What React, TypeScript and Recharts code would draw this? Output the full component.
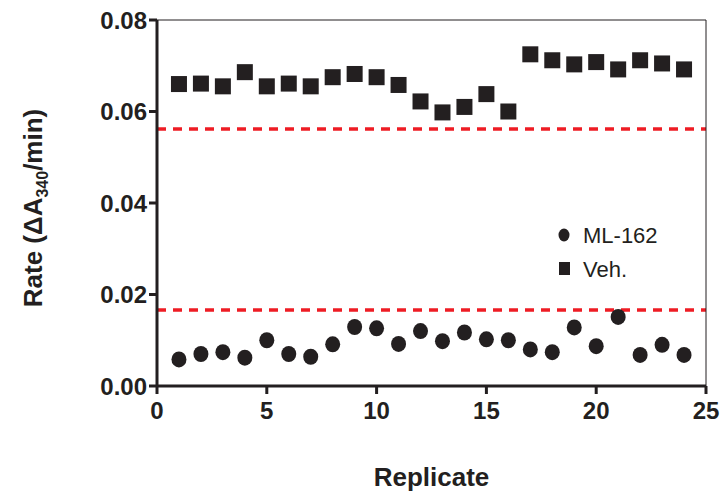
import { ScatterChart, Scatter, XAxis, YAxis, ReferenceLine } from "recharts";

const replicates = [1, 2, 3, 4, 5, 6, 7, 8, 9, 10, 11, 12, 13, 14, 15, 16, 17, 18, 19, 20, 21, 22, 23, 24];
const vehRates = [
  0.066, 0.0661, 0.0655, 0.0686, 0.0655, 0.0661, 0.0655, 0.0675, 0.0682, 0.0675, 0.0658, 0.0622,
  0.0598, 0.061, 0.0638, 0.06, 0.0725, 0.0712, 0.0703, 0.0708, 0.0692, 0.0712, 0.0705, 0.0692,
];
const mlRates = [
  0.0058, 0.007, 0.0074, 0.0062, 0.01, 0.007, 0.0064, 0.0091, 0.0129, 0.0126, 0.0092, 0.012,
  0.0098, 0.0117, 0.0102, 0.01, 0.008, 0.0074, 0.0128, 0.0087, 0.0151, 0.0068, 0.009, 0.0068,
];
const thresholds = [0.0562, 0.0166];
const xTicks = [0, 5, 10, 15, 20, 25];
const yTicks = [0, 0.02, 0.04, 0.06, 0.08];

const vehData = replicates.map((x, i) => ({ x, y: vehRates[i] }));
const mlData = replicates.map((x, i) => ({ x, y: mlRates[i] }));

const font = "'Liberation Sans', Arial, sans-serif";

function Square(props: any) {
  const { cx, cy } = props;
  return <rect x={cx - 8} y={cy - 8} width={16} height={16} fill="#231f20" />;
}

function Dot(props: any) {
  const { cx, cy } = props;
  return <ellipse cx={cx} cy={cy} rx={7.5} ry={8} fill="#231f20" />;
}

export default function App() {
  return (
    <div style={{ position: "absolute", left: 0, top: 0, width: 723, height: 492, fontFamily: font, background: "#fff" }}>
      <ScatterChart width={723} height={492} margin={{ top: 20, right: 17, bottom: 0, left: 0 }}>
        <XAxis
          type="number"
          dataKey="x"
          domain={[0, 25]}
          ticks={xTicks}
          height={106}
          stroke="#231f20"
          strokeWidth={3}
          tickSize={8}
          tick={{ fill: "#231f20", fontSize: 24, fontWeight: "bold", fontFamily: font, dy: 6 }}
          label={{ value: "Replicate", position: "insideBottom", offset: 6, fill: "#231f20", fontSize: 26, fontWeight: "bold", fontFamily: font }}
        />
        <YAxis
          type="number"
          dataKey="y"
          domain={[0, 0.08]}
          ticks={yTicks}
          tickFormatter={(v: number) => v.toFixed(2)}
          width={157}
          stroke="#231f20"
          strokeWidth={3}
          tickSize={8}
          tick={{ fill: "#231f20", fontSize: 24, fontWeight: "bold", fontFamily: font }}
        />
        {thresholds.map((t) => (
          <ReferenceLine key={t} y={t} stroke="#ee1c24" strokeWidth={3.5} strokeDasharray="9 7" />
        ))}
        <Scatter data={vehData} shape={<Square />} isAnimationActive={false} />
        <Scatter data={mlData} shape={<Dot />} isAnimationActive={false} />
      </ScatterChart>
      <svg width={723} height={492} style={{ position: "absolute", left: 0, top: 0, pointerEvents: "none" }}>
        <line x1={157} y1={20} x2={706} y2={20} stroke="#231f20" strokeWidth={1} />
        <line x1={706} y1={20} x2={706} y2={386} stroke="#231f20" strokeWidth={1} />
        <text transform="translate(42,208) rotate(-90)" textAnchor="middle" fill="#231f20" fontSize={26} fontWeight="bold" fontFamily={font}>
          Rate (ΔA<tspan fontSize={16} dy={6}>340</tspan><tspan dy={-6}>/min)</tspan>
        </text>
        <ellipse cx={564} cy={235} rx={5.5} ry={6.5} fill="#231f20" />
        <text x={583} y={243} fontSize={22} fill="#231f20" fontFamily={font}>ML-162</text>
        <rect x={559} y={262} width={11} height={13} fill="#231f20" />
        <text x={583} y={277} fontSize={22} fill="#231f20" fontFamily={font}>Veh.</text>
      </svg>
    </div>
  );
}
